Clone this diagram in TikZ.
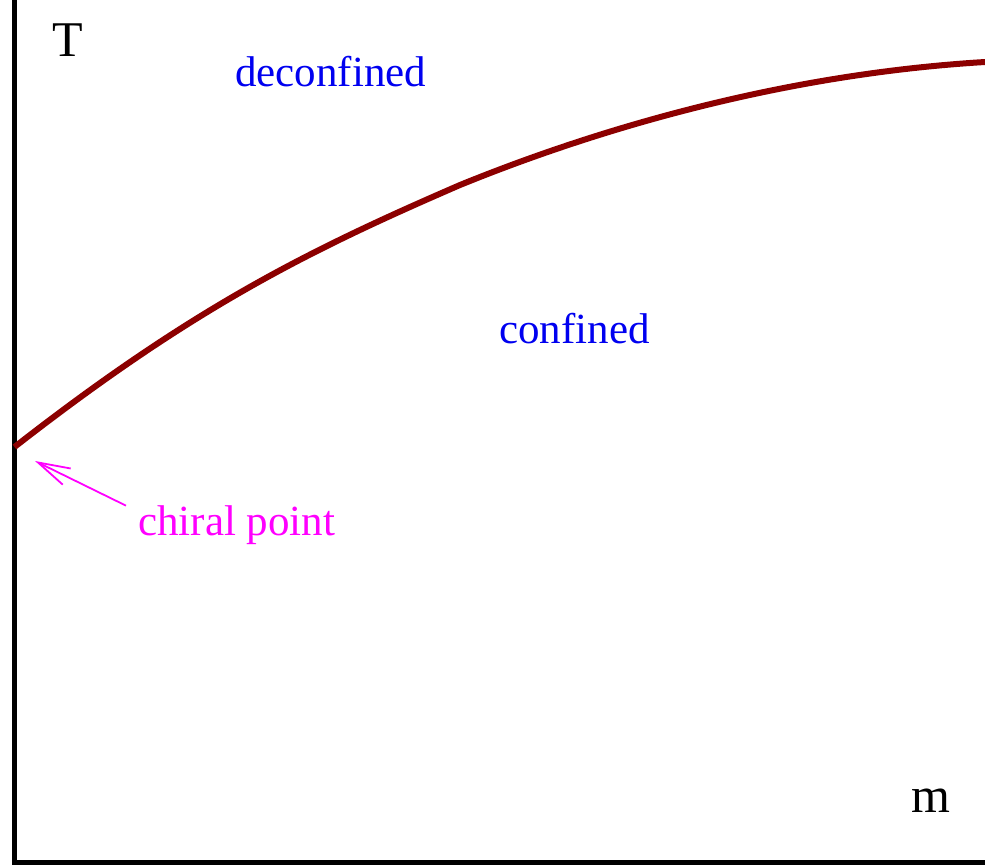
\documentclass[tikz,border=0pt]{standalone}
\usepackage{fontspec}
\setmainfont{Liberation Serif}
\usetikzlibrary{arrows.meta}
\definecolor{curvered}{RGB}{140,0,0}
\definecolor{lblue}{RGB}{0,0,240}
\definecolor{lmag}{RGB}{255,0,255}
\tikzset{
  axis/.style={line width=5pt, black},
  boundary/.style={line width=6pt, curvered},
  lbl/.style={inner sep=0pt, anchor=base west, font=\fontsize{43}{50}\selectfont},
  axlbl/.style={inner sep=0pt, anchor=base west, font=\fontsize{50}{58}\selectfont},
}
\begin{document}
\begin{tikzpicture}[x=1pt,y=-1pt]
\useasboundingbox (0,0) rectangle (985,867);
\coordinate (top) at (14.5,0);
\coordinate (origin) at (14.5,862);
\coordinate (right) at (985,862);
\draw[axis] (top) -- (origin) -- (right);
\coordinate (cp) at (14.5,447);
\coordinate (kink) at (460,185);
\coordinate (cend) at (985,62);
\draw[boundary] (cp) .. controls (194.5,306.6) and (310,250) .. (kink)
  .. controls (600,128) and (785,74) .. (cend);
\node[axlbl] (T) at (52,57) {T};
\node[axlbl] (m) at (911,812) {m};
\node[lbl, text=lblue] (dec) at (235,86) {deconfined};
\node[lbl, text=lblue] (conf) at (499,343) {confined};
\node[lbl, text=lmag] (chiral) at (138,535) {chiral point};
\coordinate (tip) at (35,461);
\draw[lmag, line width=1.8pt, -{Straight Barb[length=32pt, width=18pt, line width=1.8pt]}] (chiral.west) ++(-12,-19) coordinate (tail) (tail) -- (tip);
\end{tikzpicture}
\end{document}
